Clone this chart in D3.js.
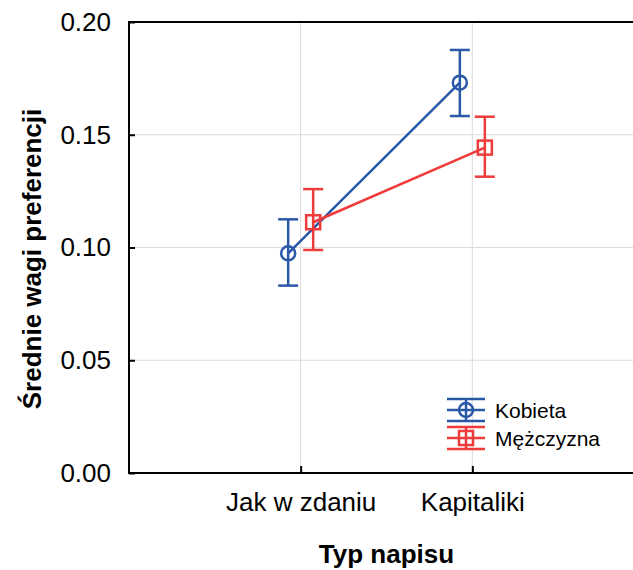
<!DOCTYPE html>
<html>
<head>
<meta charset="utf-8" />
<title>Średnie wagi preferencji</title>
<style>
  body { margin: 0; background: #fff; }
  text { font-family: "Liberation Sans", Arial, sans-serif; }
</style>
</head>
<body>
<script src="https://d3js.org/d3.v7.min.js"></script>
<script>

    var categories = ["Jak w zdaniu", "Kapitaliki"];
    var seriesNames = ["Kobieta", "Mężczyzna"];
    var kobietaMean = [0.0974, 0.1731];
    var kobietaLow = [0.0831, 0.1583];
    var kobietaHigh = [0.1125, 0.1876];
    var mezczyznaMean = [0.1112, 0.1443];
    var mezczyznaLow = [0.0989, 0.1314];
    var mezczyznaHigh = [0.1259, 0.1580];
    var yTicks = [0, 0.05, 0.10, 0.15, 0.20];

    var width = 633, height = 570;
    var margin = {left: 129, top: 22, bottom: 97};
    var plotRight = 644;

    var svg = d3.select("body").append("svg")
                .attr("width", width)
                .attr("height", height);

    var x = d3.scaleLinear()
              .domain([0, categories.length + 1])
              .range([margin.left, plotRight]);

    var y = d3.scaleLinear()
              .domain([0, 0.20])
              .range([height - margin.bottom, margin.top]);

    // grid
    svg.append("g")
       .selectAll("line.h")
       .data(yTicks.slice(1, -1))
       .enter().append("line")
       .attr("x1", margin.left).attr("x2", plotRight)
       .attr("y1", d => y(d)).attr("y2", d => y(d))
       .attr("stroke", "#dcdcdc").attr("stroke-width", 1);

    svg.append("g")
       .selectAll("line.v")
       .data(categories)
       .enter().append("line")
       .attr("x1", (d, i) => x(i + 1)).attr("x2", (d, i) => x(i + 1))
       .attr("y1", y(0)).attr("y2", y(0.20))
       .attr("stroke", "#dcdcdc").attr("stroke-width", 1);

    // frame
    svg.append("rect")
       .attr("x", margin.left).attr("y", y(0.20))
       .attr("width", plotRight - margin.left)
       .attr("height", y(0) - y(0.20))
       .attr("fill", "none").attr("stroke", "#000").attr("stroke-width", 2);

    var yAxis = d3.axisLeft(y)
                  .tickValues(yTicks)
                  .tickFormat(d3.format(".2f"))
                  .tickSize(-6)
                  .tickPadding(18);

    var yAxisView = svg.append("g")
                       .attr("transform", "translate(" + margin.left + ",0)")
                       .call(yAxis);
    yAxisView.select(".domain").remove();
    yAxisView.selectAll("line").attr("stroke-width", 2);
    yAxisView.selectAll("text")
             .attr("font-size", 26)
             .attr("font-family", "Liberation Sans, Arial, sans-serif")
             .attr("fill", "#000");

    var xAxis = d3.axisBottom(x)
                  .tickValues([1, 2])
                  .tickFormat(d => categories[d - 1])
                  .tickSize(-7)
                  .tickPadding(20);

    var xAxisView = svg.append("g")
                       .attr("transform", "translate(0," + y(0) + ")")
                       .call(xAxis);
    xAxisView.select(".domain").remove();
    xAxisView.selectAll("line").attr("stroke-width", 2);
    xAxisView.selectAll("text")
             .attr("font-size", 26)
             .attr("font-family", "Liberation Sans, Arial, sans-serif")
             .attr("fill", "#000");

    // titles
    svg.append("text")
       .attr("x", (margin.left + plotRight) / 2)
       .attr("y", 563)
       .attr("text-anchor", "middle")
       .attr("font-size", 26)
       .attr("font-weight", "bold")
       .text("Typ napisu");

    svg.append("text")
       .attr("transform", "translate(41,259) rotate(-90)")
       .attr("text-anchor", "middle")
       .attr("font-size", 26)
       .attr("font-weight", "bold")
       .text("Średnie wagi preferencji");

    // series
    var series = [
        {name: seriesNames[0], mean: kobietaMean, low: kobietaLow, high: kobietaHigh,
         color: "#2a58a8", marker: "circle", offset: -12.5},
        {name: seriesNames[1], mean: mezczyznaMean, low: mezczyznaLow, high: mezczyznaHigh,
         color: "#ef3b3b", marker: "square", offset: 12.5}
    ];

    var capW = 10;
    var sw = 2.5;

    function drawMarker(g, type, cx, cy, color){
        if(type == "circle"){
            g.append("circle")
             .attr("cx", cx).attr("cy", cy).attr("r", 7)
             .attr("fill", "none").attr("stroke", color).attr("stroke-width", sw);
        }else{
            g.append("rect")
             .attr("x", cx - 7).attr("y", cy - 7)
             .attr("width", 14).attr("height", 14)
             .attr("fill", "none").attr("stroke", color).attr("stroke-width", sw);
        }
    }

    series.forEach(function(s){
        var g = svg.append("g");
        var px = (d, i) => x(i + 1) + s.offset;

        g.append("path")
         .datum(s.mean)
         .attr("fill", "none")
         .attr("stroke", s.color)
         .attr("stroke-width", sw)
         .attr("d", d3.line().x(px).y(d => y(d)));

        s.mean.forEach(function(m, i){
            var cx = px(m, i);
            g.append("line")
             .attr("x1", cx).attr("x2", cx)
             .attr("y1", y(s.low[i])).attr("y2", y(s.high[i]))
             .attr("stroke", s.color).attr("stroke-width", sw);
            [s.low[i], s.high[i]].forEach(function(v){
                g.append("line")
                 .attr("x1", cx - capW).attr("x2", cx + capW)
                 .attr("y1", y(v)).attr("y2", y(v))
                 .attr("stroke", s.color).attr("stroke-width", sw);
            });
            drawMarker(g, s.marker, cx, y(m), s.color);
        });
    });

    // legend
    var legend = svg.append("g").attr("transform", "translate(466,410)");
    series.forEach(function(s, i){
        var lg = legend.append("g").attr("transform", "translate(0," + (i * 28) + ")");
        [-11, 0, 11].forEach(function(dy){
            lg.append("line")
              .attr("x1", -19).attr("x2", 19)
              .attr("y1", dy).attr("y2", dy)
              .attr("stroke", s.color).attr("stroke-width", sw);
        });
        lg.append("line")
          .attr("x1", 0).attr("x2", 0).attr("y1", -11).attr("y2", 11)
          .attr("stroke", s.color).attr("stroke-width", sw);
        drawMarker(lg, s.marker, 0, 0, s.color);
        lg.append("text")
          .attr("x", 29).attr("y", 0)
          .attr("dy", "0.36em")
          .attr("font-size", 21)
          .attr("fill", "#000")
          .text(s.name);
    });

</script>
</body>
</html>
